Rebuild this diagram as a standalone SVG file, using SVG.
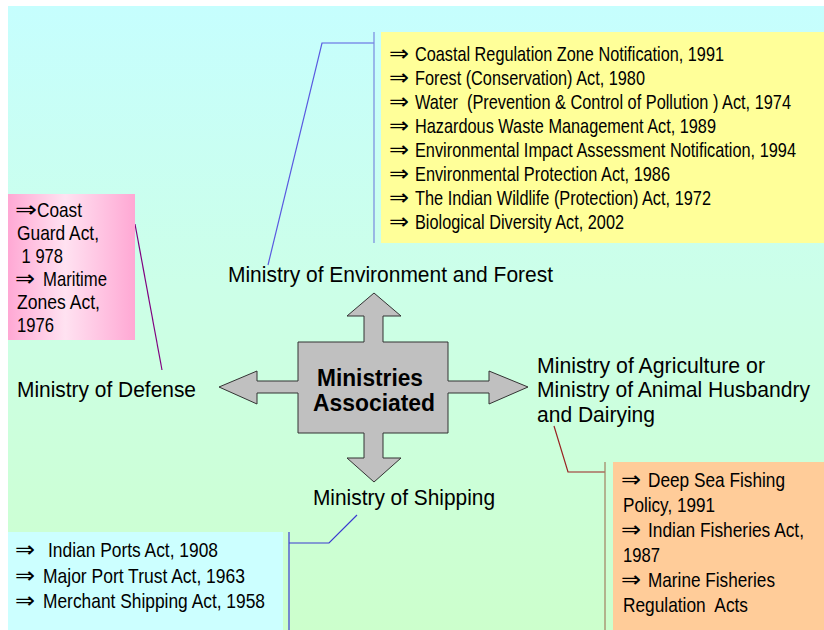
<svg xmlns="http://www.w3.org/2000/svg" width="824" height="630" viewBox="0 0 824 630">
<defs>
<linearGradient id="bg" x1="0" y1="0" x2="0" y2="1">
<stop offset="0" stop-color="#c6fefe"/>
<stop offset="0.45" stop-color="#ccffe8"/>
<stop offset="1" stop-color="#ccffcc"/>
</linearGradient>
<linearGradient id="pink" x1="0" y1="0" x2="1" y2="0">
<stop offset="0" stop-color="#ffa8d4"/>
<stop offset="0.45" stop-color="#ffe2f1"/>
<stop offset="1" stop-color="#ffa8d4"/>
</linearGradient>
<style>
.t{font-family:"Liberation Sans",Arial,sans-serif;font-size:17px;fill:#000;white-space:pre}
.lbl{font-family:"Liberation Sans",Arial,sans-serif;font-size:21px;fill:#000;white-space:pre}
.b{font-family:"Liberation Sans",Arial,sans-serif;font-size:23px;font-weight:bold;fill:#000}
.ar{font-family:"DejaVu Sans",sans-serif;font-size:19px}
.c{fill:none;stroke-width:1.2}
</style>
</defs>
<rect width="824" height="630" fill="#ffffff"/>
<rect x="8" y="6" width="816" height="624" fill="url(#bg)"/>

<g id="connectors">
<polyline class="c" stroke="#5a5ae0" points="268,265 322,43 374,43"/>
<line class="c" stroke="#7788e0" x1="374" y1="32" x2="374" y2="243"/>
<line class="c" stroke="#800080" x1="135" y1="224" x2="162" y2="370"/>
<polyline class="c" stroke="#3a3ad0" points="357,515 329,543 289,543"/>
<line class="c" stroke="#3a3ad0" x1="289" y1="532" x2="289" y2="630"/>
<polyline class="c" stroke="#992222" points="554,426 568,472 605,472"/>
<line class="c" stroke="#a08060" stroke-width="1.5" x1="605" y1="462" x2="605" y2="630"/>
</g>

<g id="env-acts">
<rect x="381" y="32" width="443" height="211" fill="#ffff99"/>
<text class="t" transform="translate(0 61) scale(1 1.18)"><tspan class="ar" x="389" textLength="20" lengthAdjust="spacingAndGlyphs">⇒</tspan><tspan x="415" textLength="309" lengthAdjust="spacingAndGlyphs">Coastal Regulation Zone Notification, 1991</tspan></text>
<text class="t" transform="translate(0 85) scale(1 1.18)"><tspan class="ar" x="389" textLength="20" lengthAdjust="spacingAndGlyphs">⇒</tspan><tspan x="415" textLength="230" lengthAdjust="spacingAndGlyphs">Forest (Conservation) Act, 1980</tspan></text>
<text class="t" transform="translate(0 109) scale(1 1.18)"><tspan class="ar" x="389" textLength="20" lengthAdjust="spacingAndGlyphs">⇒</tspan><tspan x="415" textLength="376" lengthAdjust="spacingAndGlyphs">Water  (Prevention &amp; Control of Pollution ) Act, 1974</tspan></text>
<text class="t" transform="translate(0 133) scale(1 1.18)"><tspan class="ar" x="389" textLength="20" lengthAdjust="spacingAndGlyphs">⇒</tspan><tspan x="415" textLength="301" lengthAdjust="spacingAndGlyphs">Hazardous Waste Management Act, 1989</tspan></text>
<text class="t" transform="translate(0 157) scale(1 1.18)"><tspan class="ar" x="389" textLength="20" lengthAdjust="spacingAndGlyphs">⇒</tspan><tspan x="415" textLength="381" lengthAdjust="spacingAndGlyphs">Environmental Impact Assessment Notification, 1994</tspan></text>
<text class="t" transform="translate(0 181) scale(1 1.18)"><tspan class="ar" x="389" textLength="20" lengthAdjust="spacingAndGlyphs">⇒</tspan><tspan x="415" textLength="255" lengthAdjust="spacingAndGlyphs">Environmental Protection Act, 1986</tspan></text>
<text class="t" transform="translate(0 205) scale(1 1.18)"><tspan class="ar" x="389" textLength="20" lengthAdjust="spacingAndGlyphs">⇒</tspan><tspan x="415" textLength="296" lengthAdjust="spacingAndGlyphs">The Indian Wildlife (Protection) Act, 1972</tspan></text>
<text class="t" transform="translate(0 229) scale(1 1.18)"><tspan class="ar" x="389" textLength="20" lengthAdjust="spacingAndGlyphs">⇒</tspan><tspan x="415" textLength="209" lengthAdjust="spacingAndGlyphs">Biological Diversity Act, 2002</tspan></text>
</g>

<g id="defense-acts">
<rect x="8" y="194" width="127" height="146" fill="url(#pink)"/>
<text class="t" transform="translate(0 217) scale(1 1.18)"><tspan class="ar" x="15" textLength="22" lengthAdjust="spacingAndGlyphs">⇒</tspan><tspan x="37" textLength="45" lengthAdjust="spacingAndGlyphs">Coast</tspan></text>
<text class="t" transform="translate(0 240) scale(1 1.18)"><tspan x="17" textLength="82" lengthAdjust="spacingAndGlyphs">Guard Act,</tspan></text>
<text class="t" transform="translate(0 263) scale(1 1.18)"><tspan x="17" textLength="46" lengthAdjust="spacingAndGlyphs"> 1 978</tspan></text>
<text class="t" transform="translate(0 286) scale(1 1.18)"><tspan class="ar" x="15" textLength="20" lengthAdjust="spacingAndGlyphs">⇒</tspan><tspan x="43" textLength="64" lengthAdjust="spacingAndGlyphs">Maritime</tspan></text>
<text class="t" transform="translate(0 309) scale(1 1.18)"><tspan x="17" textLength="83" lengthAdjust="spacingAndGlyphs">Zones Act,</tspan></text>
<text class="t" transform="translate(0 332) scale(1 1.18)"><tspan x="17" textLength="37" lengthAdjust="spacingAndGlyphs">1976</tspan></text>
</g>

<g id="shipping-acts">
<rect x="8" y="532" width="275" height="98" fill="#ccffff"/>
<text class="t" transform="translate(0 557) scale(1 1.18)"><tspan class="ar" x="15" textLength="20" lengthAdjust="spacingAndGlyphs">⇒</tspan><tspan x="48" textLength="170" lengthAdjust="spacingAndGlyphs">Indian Ports Act, 1908</tspan></text>
<text class="t" transform="translate(0 583) scale(1 1.18)"><tspan class="ar" x="15" textLength="20" lengthAdjust="spacingAndGlyphs">⇒</tspan><tspan x="43" textLength="202" lengthAdjust="spacingAndGlyphs">Major Port Trust Act, 1963</tspan></text>
<text class="t" transform="translate(0 608) scale(1 1.18)"><tspan class="ar" x="15" textLength="20" lengthAdjust="spacingAndGlyphs">⇒</tspan><tspan x="43" textLength="222" lengthAdjust="spacingAndGlyphs">Merchant Shipping Act, 1958</tspan></text>
</g>

<g id="agri-acts">
<rect x="613" y="462" width="211" height="168" fill="#ffcc99"/>
<text class="t" transform="translate(0 487) scale(1 1.18)"><tspan class="ar" x="621" textLength="20" lengthAdjust="spacingAndGlyphs">⇒</tspan><tspan x="648" textLength="137" lengthAdjust="spacingAndGlyphs">Deep Sea Fishing</tspan></text>
<text class="t" transform="translate(0 512) scale(1 1.18)"><tspan x="623" textLength="92" lengthAdjust="spacingAndGlyphs">Policy, 1991</tspan></text>
<text class="t" transform="translate(0 537) scale(1 1.18)"><tspan class="ar" x="621" textLength="20" lengthAdjust="spacingAndGlyphs">⇒</tspan><tspan x="648" textLength="156" lengthAdjust="spacingAndGlyphs">Indian Fisheries Act,</tspan></text>
<text class="t" transform="translate(0 562) scale(1 1.18)"><tspan x="623" textLength="37" lengthAdjust="spacingAndGlyphs">1987</tspan></text>
<text class="t" transform="translate(0 587) scale(1 1.18)"><tspan class="ar" x="621" textLength="20" lengthAdjust="spacingAndGlyphs">⇒</tspan><tspan x="648" textLength="127" lengthAdjust="spacingAndGlyphs">Marine Fisheries</tspan></text>
<text class="t" transform="translate(0 612) scale(1 1.18)"><tspan x="623" textLength="125" lengthAdjust="spacingAndGlyphs">Regulation  Acts</tspan></text>
</g>

<g id="center">
<polygon fill="#c0c0c0" stroke="#333333" stroke-width="1" points="298,342 364,342 364,316 347,316 374,293 401,316 383,316 383,342 448,342 448,381 489,381 489,371 528,387 489,404 489,393 448,393 448,433 383,433 383,458 401,458 374,482 347,458 364,458 364,433 298,433 298,393 257,393 257,404 219,387 257,371 257,381 298,381"/>
<text class="b" y="386"><tspan x="317" textLength="106" lengthAdjust="spacingAndGlyphs">Ministries</tspan></text>
<text class="b" y="411"><tspan x="313" textLength="122" lengthAdjust="spacingAndGlyphs">Associated</tspan></text>
</g>

<g id="env">
<text class="lbl" transform="translate(0 282) scale(1 1.05)"><tspan x="228" textLength="325" lengthAdjust="spacingAndGlyphs">Ministry of Environment and Forest</tspan></text>
</g>
<g id="defense">
<text class="lbl" transform="translate(0 397) scale(1 1.05)"><tspan x="17" textLength="179" lengthAdjust="spacingAndGlyphs">Ministry of Defense</tspan></text>
</g>
<g id="shipping">
<text class="lbl" transform="translate(0 505) scale(1 1.05)"><tspan x="313" textLength="182" lengthAdjust="spacingAndGlyphs">Ministry of Shipping</tspan></text>
</g>
<g id="agriculture">
<text class="lbl" transform="translate(0 373) scale(1 1.04)"><tspan x="537" textLength="228" lengthAdjust="spacingAndGlyphs">Ministry of Agriculture or</tspan></text>
<text class="lbl" transform="translate(0 397) scale(1 1.04)"><tspan x="537" textLength="273" lengthAdjust="spacingAndGlyphs">Ministry of Animal Husbandry</tspan></text>
<text class="lbl" transform="translate(0 422) scale(1 1.04)"><tspan x="537" textLength="118" lengthAdjust="spacingAndGlyphs">and Dairying</tspan></text>
</g>
</svg>
